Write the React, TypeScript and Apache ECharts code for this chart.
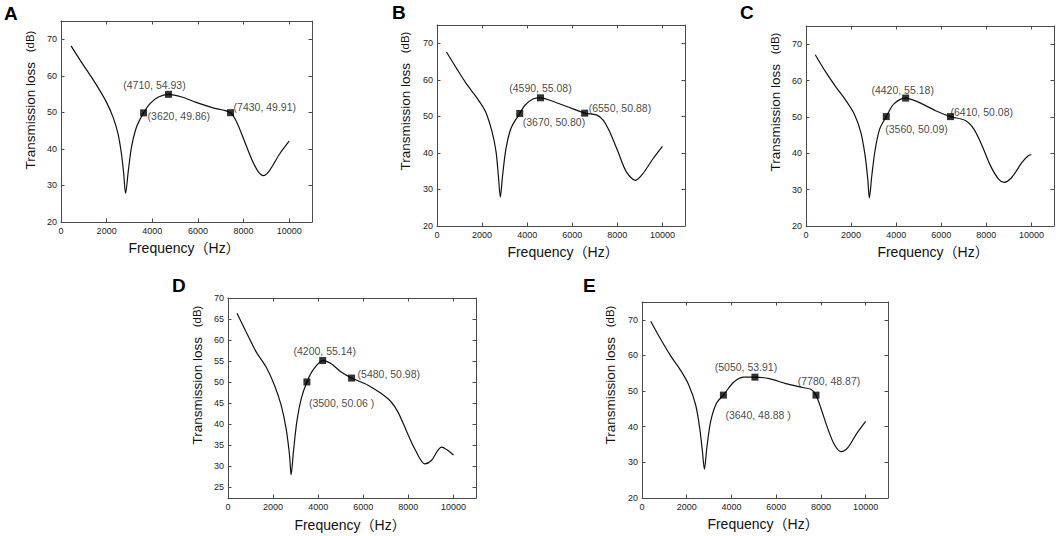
import React, { useEffect, useRef } from "react";
import * as echarts from "echarts";

// ---------- data ----------
const freqA = [440, 880, 1330, 1690, 1990, 2280, 2500, 2650, 2750, 2830, 2950, 3090, 3310, 3620, 3900, 4270, 4710, 5300, 5890, 6630, 7430, 7730, 8030, 8320, 8620, 8870, 9130, 9580, 10000];
const lossA = [68.2, 63.9, 59.7, 56.1, 52.8, 48.7, 44.1, 38.6, 33.1, 27.8, 34.0, 40.5, 46.0, 49.86, 52.4, 54.2, 54.93, 54.2, 52.8, 51.3, 49.91, 46.9, 42.3, 37.7, 34.0, 32.7, 34.0, 38.6, 42.1];
const markFreqA = [3620, 4710, 7430];
const markLossA = [49.86, 54.93, 49.91];
const markTextA = ["(3620, 49.86)", "(4710, 54.93)", "(7430, 49.91)"];

const freqB = [420, 900, 1340, 1780, 2150, 2440, 2620, 2720, 2810, 2910, 3060, 3280, 3670, 3910, 4280, 4590, 5090, 5750, 6550, 7070, 7370, 7660, 8030, 8400, 8800, 9130, 9580, 10000];
const lossB = [67.6, 62.8, 58.6, 55.0, 51.3, 45.8, 40.3, 33.9, 27.9, 33.9, 41.2, 46.7, 50.8, 53.1, 54.8, 55.08, 54.2, 52.7, 50.88, 50.4, 49.0, 45.8, 40.3, 34.8, 32.5, 34.3, 38.4, 41.8];
const markFreqB = [3670, 4590, 6550];
const markLossB = [50.8, 55.08, 50.88];
const markTextB = ["(3670, 50.80)", "(4590, 55.08)", "(6550, 50.88)"];

const freqC = [410, 880, 1330, 1770, 2140, 2430, 2620, 2740, 2810, 2920, 3060, 3270, 3560, 3900, 4420, 5010, 5750, 6410, 7070, 7440, 7810, 8180, 8540, 8790, 9130, 9580, 9870, 10000];
const lossC = [67.1, 62.3, 58.2, 54.5, 50.8, 45.8, 39.4, 32.9, 27.7, 33.9, 40.7, 46.7, 50.09, 53.6, 55.18, 54.0, 51.7, 50.08, 49.0, 46.7, 42.1, 36.6, 32.9, 32.0, 33.4, 37.5, 39.4, 39.6];
const markFreqC = [3560, 4420, 6410];
const markLossC = [50.09, 55.18, 50.08];
const markTextC = ["(3560, 50.09)", "(4420, 55.18)", "(6410, 50.08)"];

const freqD = [400, 800, 1250, 1690, 2060, 2360, 2580, 2730, 2800, 2900, 3050, 3250, 3500, 3760, 4200, 4580, 5020, 5480, 6210, 6800, 7240, 7540, 7910, 8280, 8730, 9020, 9470, 9760, 10000];
const lossD = [66.4, 62.0, 57.2, 53.6, 49.3, 44.5, 38.9, 32.6, 28.0, 33.4, 40.5, 46.1, 50.06, 52.8, 55.14, 54.4, 52.4, 50.98, 49.3, 47.3, 45.3, 42.9, 38.5, 34.2, 30.6, 31.4, 34.6, 33.8, 32.7];
const markFreqD = [3500, 4200, 5480];
const markLossD = [50.06, 55.14, 50.98];
const markTextD = ["(3500, 50.06 )", "(4200, 55.14)", "(5480, 50.98)"];

const freqE = [390, 830, 1280, 1730, 2100, 2400, 2580, 2700, 2790, 2900, 3070, 3330, 3640, 4120, 4570, 5050, 5690, 6430, 7180, 7550, 7780, 8000, 8300, 8600, 8900, 9200, 9570, 10000];
const lossE = [69.6, 64.6, 59.9, 55.8, 51.6, 46.1, 39.6, 33.2, 28.1, 34.1, 41.5, 46.6, 48.88, 52.6, 53.9, 53.91, 53.5, 52.1, 51.0, 50.5, 48.87, 45.2, 39.6, 35.0, 33.0, 34.1, 37.8, 41.5];
const markFreqE = [3640, 5050, 7780];
const markLossE = [48.88, 53.91, 48.87];
const markTextE = ["(3640, 48.88 )", "(5050, 53.91)", "(7780, 48.87)"];

const xTicks = [0, 2000, 4000, 6000, 8000, 10000];
const yTicks10 = [20, 30, 40, 50, 60, 70];
const yTicks5 = [25, 30, 35, 40, 45, 50, 55, 60, 65, 70];

const panelLetters = ["A", "B", "C", "D", "E"];
const xTitle = "Frequency（Hz）";
const yTitleMain = "Transmission loss";
const yTitleUnit = "(dB)";

// ---------- layout (pixels) ----------
const layout = [
  { grid: [61, 21, 251, 201], letter: [4, 13], yt: [30, 100], xt: [184, 248], yMin: 20, yMax: 75, ticks: yTicks10,
    lab: [["left", 4, 3], ["center", -14, -9], ["left", 3, -6]] },
  { grid: [437, 25, 248, 201], letter: [392, 12.5], yt: [405, 101], xt: [563, 252], yMin: 20, yMax: 75, ticks: yTicks10,
    lab: [["left", 3, 9], ["center", 0, -10], ["left", 4, -5]] },
  { grid: [806, 26, 248, 200], letter: [740, 12.5], yt: [775, 102], xt: [933, 252], yMin: 20, yMax: 75, ticks: yTicks10,
    lab: [["left", -1, 12], ["center", -3, -8], ["left", 0, -5]] },
  { grid: [228, 298, 248, 200], letter: [172, 285], yt: [197, 375], xt: [350, 525], yMin: 22.5, yMax: 70, ticks: yTicks5,
    lab: [["left", 2, 21], ["center", 2, -10], ["left", 6, -4]] },
  { grid: [642, 302, 246, 196], letter: [583, 285], yt: [610, 375], xt: [763, 524], yMin: 20, yMax: 75, ticks: yTicks10,
    lab: [["left", 2, 20], ["center", -9, -10], ["center", 13, -14]] },
];

const curves = [
  [freqA, lossA, markFreqA, markLossA, markTextA],
  [freqB, lossB, markFreqB, markLossB, markTextB],
  [freqC, lossC, markFreqC, markLossC, markTextC],
  [freqD, lossD, markFreqD, markLossD, markTextD],
  [freqE, lossE, markFreqE, markLossE, markTextE],
] as any[];

const FONT = "'Liberation Sans', Arial, 'Noto Sans CJK SC', sans-serif";
const AXIS_COLOR = "#4a4a4a";

export default function App() {
  const ref = useRef<HTMLDivElement>(null);

  useEffect(() => {
    if (!ref.current) return;
    const chart = echarts.init(ref.current, null, { renderer: "svg" });

    const grids: any[] = [];
    const xAxes: any[] = [];
    const yAxes: any[] = [];
    const series: any[] = [];
    const graphics: any[] = [];

    layout.forEach((L, i) => {
      const [left, top, width, height] = L.grid;
      grids.push({ left, top, width, height, containLabel: false });

      const axisLine = { show: true, onZero: false, lineStyle: { color: AXIS_COLOR, width: 1 } };
      const axisTick = { show: true, inside: true, length: 3.5, lineStyle: { color: AXIS_COLOR } };

      xAxes.push({
        gridIndex: i, type: "value", position: "bottom", min: 0, max: 11000, interval: 2000,
        axisLine, axisTick,
        axisLabel: { show: true, fontSize: 9, color: "#222", margin: 4, fontFamily: FONT,
          customValues: xTicks, formatter: (v: number) => String(v) },
        splitLine: { show: false },
      });
      xAxes.push({
        gridIndex: i, type: "value", position: "top", min: 0, max: 11000, interval: 2000,
        axisLine, axisTick, axisLabel: { show: false }, splitLine: { show: false },
      });
      const yBase: any = {
        gridIndex: i, type: "value", min: L.yMin, max: L.yMax,
        axisLine, splitLine: { show: false },
        axisTick: { ...axisTick, customValues: L.ticks },
      };
      yAxes.push({
        ...yBase, position: "left",
        axisLabel: { show: true, fontSize: 9, color: "#222", margin: 4, fontFamily: FONT,
          customValues: L.ticks, formatter: (v: number) => String(v) },
      });
      yAxes.push({
        ...yBase, position: "right", axisLabel: { show: false, customValues: L.ticks },
      });

      const [freq, loss, mf, ml, mt] = curves[i];
      series.push({
        type: "line", xAxisIndex: i * 2, yAxisIndex: i * 2,
        data: freq.map((f: number, j: number) => [f, loss[j]]),
        smooth: 0.3, showSymbol: false, silent: true,
        lineStyle: { color: "#111", width: 1.2 },
      });
      series.push({
        type: "scatter", xAxisIndex: i * 2, yAxisIndex: i * 2,
        symbol: "rect", symbolSize: 7, itemStyle: { color: "#000" }, z: 5,
        data: mf.map((f: number, j: number) => ({
          value: [f, ml[j]],
          label: {
            show: true, position: "inside", align: L.lab[j][0], verticalAlign: "middle",
            offset: [L.lab[j][1], L.lab[j][2]], formatter: mt[j],
            fontSize: 10.5, color: "#111", fontFamily: FONT,
          },
        })),
      });

      graphics.push({
        type: "text", x: L.letter[0], y: L.letter[1],
        style: { text: panelLetters[i], fontSize: 19, fontWeight: "bold", fill: "#000", fontFamily: FONT,
          align: "left", verticalAlign: "middle" },
      });
      graphics.push({
        type: "text", x: L.xt[0], y: L.xt[1],
        style: { text: xTitle, fontSize: 14, fill: "#111", fontFamily: FONT, align: "center", verticalAlign: "middle" },
      });
      graphics.push({
        type: "text", x: L.yt[0], y: L.yt[1], rotation: Math.PI / 2,
        style: {
          text: "{a|" + yTitleMain + "}{b|   " + yTitleUnit + "}",
          align: "center", verticalAlign: "middle", fill: "#111", fontFamily: FONT,
          rich: {
            a: { fontSize: 13.5, fontFamily: FONT, fill: "#111" },
            b: { fontSize: 11.5, fontFamily: FONT, fill: "#111" },
          },
        },
      });
    });

    chart.setOption({
      animation: false,
      backgroundColor: "#fff",
      grid: grids,
      xAxis: xAxes,
      yAxis: yAxes,
      series,
      graphic: graphics,
    });

    return () => chart.dispose();
  }, []);

  return (
    <div
      ref={ref}
      style={{ position: "fixed", left: 0, top: 0, width: 1059, height: 536, background: "#fff" }}
    />
  );
}
